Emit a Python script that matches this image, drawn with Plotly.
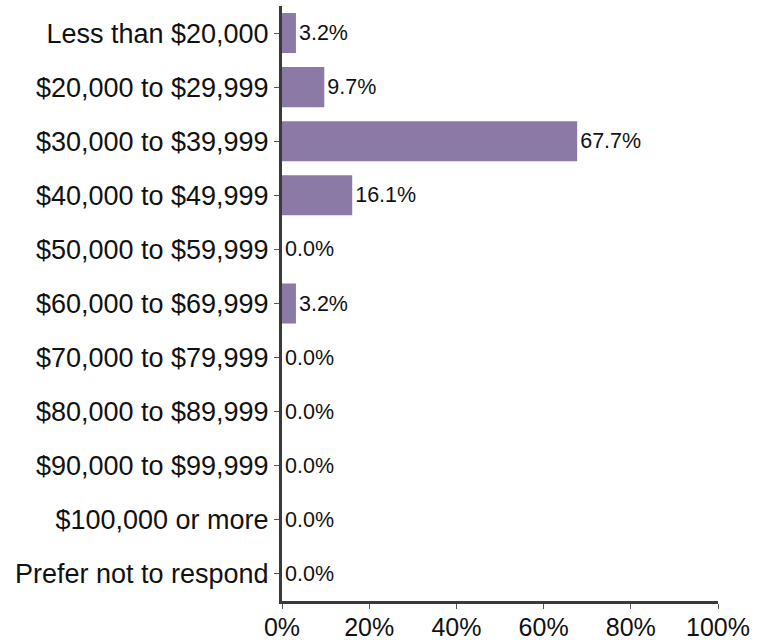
import plotly.graph_objects as go

categories = [
    "Less than $20,000",
    "$20,000 to $29,999",
    "$30,000 to $39,999",
    "$40,000 to $49,999",
    "$50,000 to $59,999",
    "$60,000 to $69,999",
    "$70,000 to $79,999",
    "$80,000 to $89,999",
    "$90,000 to $99,999",
    "$100,000 or more",
    "Prefer not to respond",
]
percent_values = [3.2, 9.7, 67.7, 16.1, 0.0, 3.2, 0.0, 0.0, 0.0, 0.0, 0.0]
x_tick_values = [0, 20, 40, 60, 80, 100]
x_tick_labels = ["0%", "20%", "40%", "60%", "80%", "100%"]

FONT = "Liberation Sans, Arial, sans-serif"

fig = go.Figure(
    go.Bar(
        x=percent_values,
        y=categories,
        orientation="h",
        marker=dict(color="#8b7aa6", line=dict(width=0)),
        width=0.74,
        text=[f"{v:.1f}%" for v in percent_values],
        textposition="outside",
        textfont=dict(family=FONT, size=21.5, color="#111111"),
        cliponaxis=False,
        constraintext="none",
        hoverinfo="skip",
    )
)

fig.update_layout(
    width=757,
    height=640,
    margin=dict(l=282, r=39, t=6, b=39, autoexpand=False),
    paper_bgcolor="white",
    plot_bgcolor="white",
    showlegend=False,
    font=dict(family=FONT, color="#111111"),
)

fig.update_xaxes(
    range=[0, 100],
    tickvals=x_tick_values,
    ticktext=x_tick_labels,
    showgrid=False,
    zeroline=False,
    showline=True,
    linewidth=3,
    linecolor="#3a3a3a",
    ticks="outside",
    ticklen=5,
    tickwidth=1,
    tickcolor="#555555",
    tickfont=dict(family=FONT, size=25, color="#111111"),
    ticklabelstandoff=-3,
    automargin=False,
    fixedrange=True,
)

fig.update_yaxes(
    categoryorder="array",
    categoryarray=categories,
    autorange="reversed",
    showgrid=False,
    zeroline=False,
    showline=True,
    linewidth=3,
    linecolor="#3a3a3a",
    ticks="outside",
    ticklen=5,
    tickwidth=1,
    tickcolor="#555555",
    tickfont=dict(family=FONT, size=27, color="#111111"),
    ticklabelstandoff=0,
    automargin=False,
    fixedrange=True,
)

fig.write_html(
    "out.html",
    config={"displayModeBar": False},
    post_script="document.body.style.margin='0';document.body.style.overflow='hidden';",
)
